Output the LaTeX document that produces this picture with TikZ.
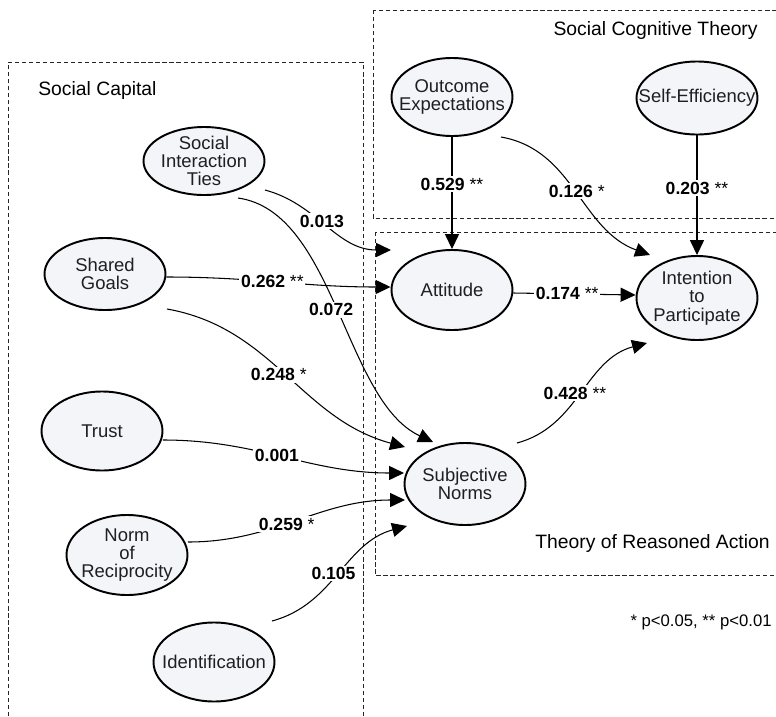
\documentclass[tikz,border=0pt]{standalone}
\usepackage{fontspec}
\setmainfont{Liberation Sans}
\usepackage{xcolor}
\usetikzlibrary{shapes.geometric, arrows.meta, positioning}

\definecolor{nodefill}{RGB}{243,245,248}
\definecolor{nodetext}{RGB}{30,30,35}

\begin{document}
\begin{tikzpicture}[
    var/.style={ellipse, draw=black, line width=1.1pt, fill=nodefill, minimum width=2.42cm, minimum height=1.58cm, inner sep=0pt},
    vartext/.style={align=center, inner sep=0pt, text=nodetext, font=\fontsize{10.5}{10.4}\selectfont},
    group/.style={draw=black!85, line width=0.5pt, dash pattern=on 2.4pt off 1.6pt},
    title/.style={inner sep=0pt, font=\fontsize{11}{13}\selectfont},
    arr/.style={-{Triangle[length=8.5pt, width=8pt]}, line width=0.6pt},
    lbl/.style={fill=white, inner sep=1pt, font=\fontsize{10}{12}\selectfont}
]
    \useasboundingbox (0,0) rectangle (15.52,-14.34);

    % Groups
    \draw[group] (0.16,-14.6) |- (7.26,-1.24) -- (7.26,-14.6);
    \draw[group] (7.46,-0.2) rectangle (15.7,-4.36);
    \draw[group] (7.50,-4.64) rectangle (15.7,-11.5);
    \node[title, anchor=west] (sctitle) at (0.76,-1.8) {Social Capital};
    \node[title, anchor=east] (scttitle) at (15.16,-0.6) {Social Cognitive Theory};
    \node[title, anchor=east] (tratitle) at (15.4,-10.86) {Theory of Reasoned Action};
    \node[inner sep=0pt, anchor=east, font=\fontsize{9.5}{11}\selectfont] (note) at (15.44,-12.44) {* p<0.05, ** p<0.01};

    % Social capital
    \node[var, minimum height=1.36cm, label={[vartext]center:{Social\\Interaction\\Ties}}] (sit) at (4.08,-3.22) {};
    \node[var, minimum height=1.44cm, label={[vartext]center:{Shared\\Goals}}] (sg) at (2.10,-5.48) {};
    \node[var, label={[vartext]center:{Trust}}] (trust) at (2.04,-8.62) {};
    \node[var, minimum height=1.6cm, label={[vartext]center:{Norm\\of\\Reciprocity}}] (norm) at (2.54,-11.10) {};
    \node[var, label={[vartext]center:{Identification}}] (ident) at (4.28,-13.24) {};

    % Social cognitive theory
    \node[var, minimum height=1.56cm, label={[vartext]center:{Outcome\\Expectations}}] (oe) at (9.04,-1.94) {};
    \node[var, minimum height=1.46cm, label={[vartext]center:{Self-Efficiency}}] (se) at (13.94,-1.96) {};

    % Theory of reasoned action
    \node[var, minimum height=1.6cm, label={[vartext]center:{Attitude}}] (att) at (9.04,-5.80) {};
    \node[var, minimum height=1.68cm, label={[vartext]center:{Intention\\to\\Participate}}] (int) at (13.94,-5.96) {};
    \node[var, minimum height=1.64cm, label={[vartext]center:{Subjective\\Norms}}] (sn) at (9.30,-9.68) {};

    % Paths
    \draw[arr] ([shift={(1.22,-0.58)}]sit.center) to[out=-15,in=180] node[lbl,pos=0.45] {\bfseries 0.013} ([shift={(-1.22,0.80)}]att.center);
    \draw[arr] ([shift={(0.68,-0.74)}]sit.center) to[out=-8,in=155,looseness=0.8] node[lbl,xshift=-0.15cm] {\bfseries 0.072} ([shift={(-0.64,0.84)}]sn.center);
    \draw[arr] ([yshift=-0.06cm]sg.east) to[out=0,in=180] node[lbl,pos=0.47] {{\bfseries 0.262} **} ([yshift=0.06cm]att.west);
    \draw[arr] ([shift={(1.24,-0.70)}]sg.center) to[out=-10,in=165] node[lbl,xshift=-0.16cm] {{\bfseries 0.248} *} ([shift={(-1.2,0.74)}]sn.center);
    \draw[arr] ([shift={(1.22,-0.18)}]trust.center) to[out=0,in=180] node[lbl,pos=0.47] {\bfseries 0.001} ([shift={(-1.22,0.22)}]sn.center);
    \draw[arr] ([shift={(1.22,0.26)}]norm.center) to[out=0,in=180] node[lbl,pos=0.45] {{\bfseries 0.259} *} ([shift={(-1.2,-0.32)}]sn.center);
    \draw[arr] ([shift={(1.16,0.82)}]ident.center) to[out=15,in=195] node[lbl,xshift=-0.12cm] {\bfseries 0.105} ([shift={(-1.16,-0.84)}]sn.center);
    \draw[arr] (oe.south) -- node[lbl,pos=0.42] {{\bfseries 0.529} **} (att.north);
    \draw[arr] ([shift={(0.98,-0.80)}]oe.center) to[out=-10,in=160] node[lbl] {{\bfseries 0.126} *} ([shift={(-0.94,0.86)}]int.center);
    \draw[arr] (se.south) -- node[lbl,pos=0.44] {{\bfseries 0.203} **} (int.north);
    \draw[arr] ([yshift=-0.06cm]att.east) -- node[lbl,pos=0.44] {{\bfseries 0.174} **} ([yshift=0.06cm]int.west);
    \draw[arr] ([shift={(1.04,0.82)}]sn.center) to[out=15,in=195] node[lbl,xshift=-0.14cm] {{\bfseries 0.428} **} ([shift={(-1.0,-0.90)}]int.center);
\end{tikzpicture}
\end{document}
